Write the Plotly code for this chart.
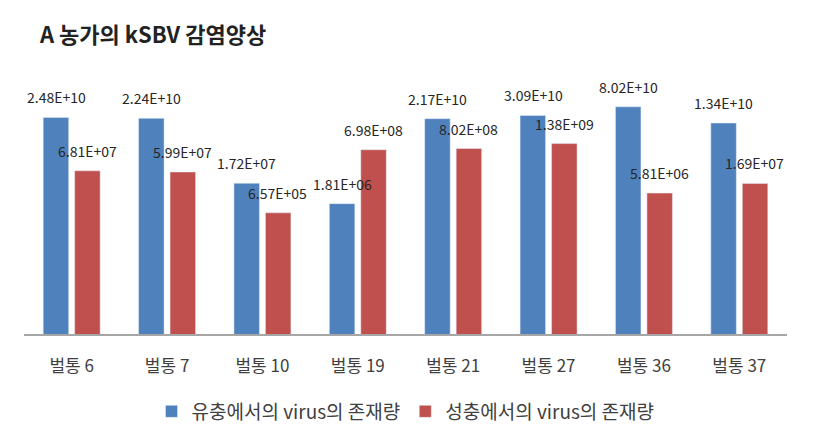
import math
import plotly.graph_objects as go

# data
hives = ["벌통 6", "벌통 7", "벌통 10", "벌통 19", "벌통 21", "벌통 27", "벌통 36", "벌통 37"]
larva = [2.48e10, 2.24e10, 1.72e7, 1.81e6, 2.17e10, 3.09e10, 8.02e10, 1.34e10]
adult = [6.81e7, 5.99e7, 6.57e5, 6.98e8, 8.02e8, 1.38e9, 5.81e6, 1.69e7]
larva_name = "유충에서의 virus의 존재량"
adult_name = "성충에서의 virus의 존재량"

FONT = "Noto Sans CJK KR"
BLUE = "#4F81BD"
RED = "#C0504D"

# page body has an 8px default margin, so the figure is a bit smaller
W, H = 809, 434

fig = go.Figure()
fig.add_trace(go.Bar(x=hives, y=larva, name=larva_name, marker_color=BLUE))
fig.add_trace(go.Bar(x=hives, y=adult, name=adult_name, marker_color=RED))

# value labels above each bar (excel style, a bit high)
annots = []
for series, shift in [(larva, -15.5), (adult, 15.5)]:
    for h, v in zip(hives, series):
        annots.append(dict(
            x=h, y=math.log10(v), xref="x", yref="y",
            text=f"{v:.2E}",
            showarrow=False, xshift=shift, yshift=20,
            yanchor="middle", xanchor="center",
            font=dict(family=FONT, size=14, color="#262626"),
        ))

fig.update_layout(
    width=W, height=H,
    margin=dict(l=16, r=30, t=76, b=100),
    paper_bgcolor="white", plot_bgcolor="white",
    barmode="group", bargap=0.34, bargroupgap=0.19,
    title=dict(text="<b>A 농가의 kSBV 감염양상</b>", x=32 / W, xanchor="left",
               y=1 - 27 / H, yanchor="middle",
               font=dict(family=FONT, size=22, color="#222222")),
    font=dict(family=FONT, color="#404040"),
    annotations=annots,
    showlegend=True,
    legend=dict(orientation="h", x=0.5, xanchor="center", y=-0.31, yanchor="middle",
                font=dict(family=FONT, size=19, color="#404040"),
                itemwidth=30, tracegroupgap=0),
)
fig.update_xaxes(showline=True, linecolor="#A6A6A6", linewidth=1.5,
                 showgrid=False, ticks="", ticklabelstandoff=16,
                 tickfont=dict(family=FONT, size=17, color="#404040"))
fig.update_yaxes(type="log", range=[0, 12], visible=False, showgrid=False)

fig.write_html("out.html")
